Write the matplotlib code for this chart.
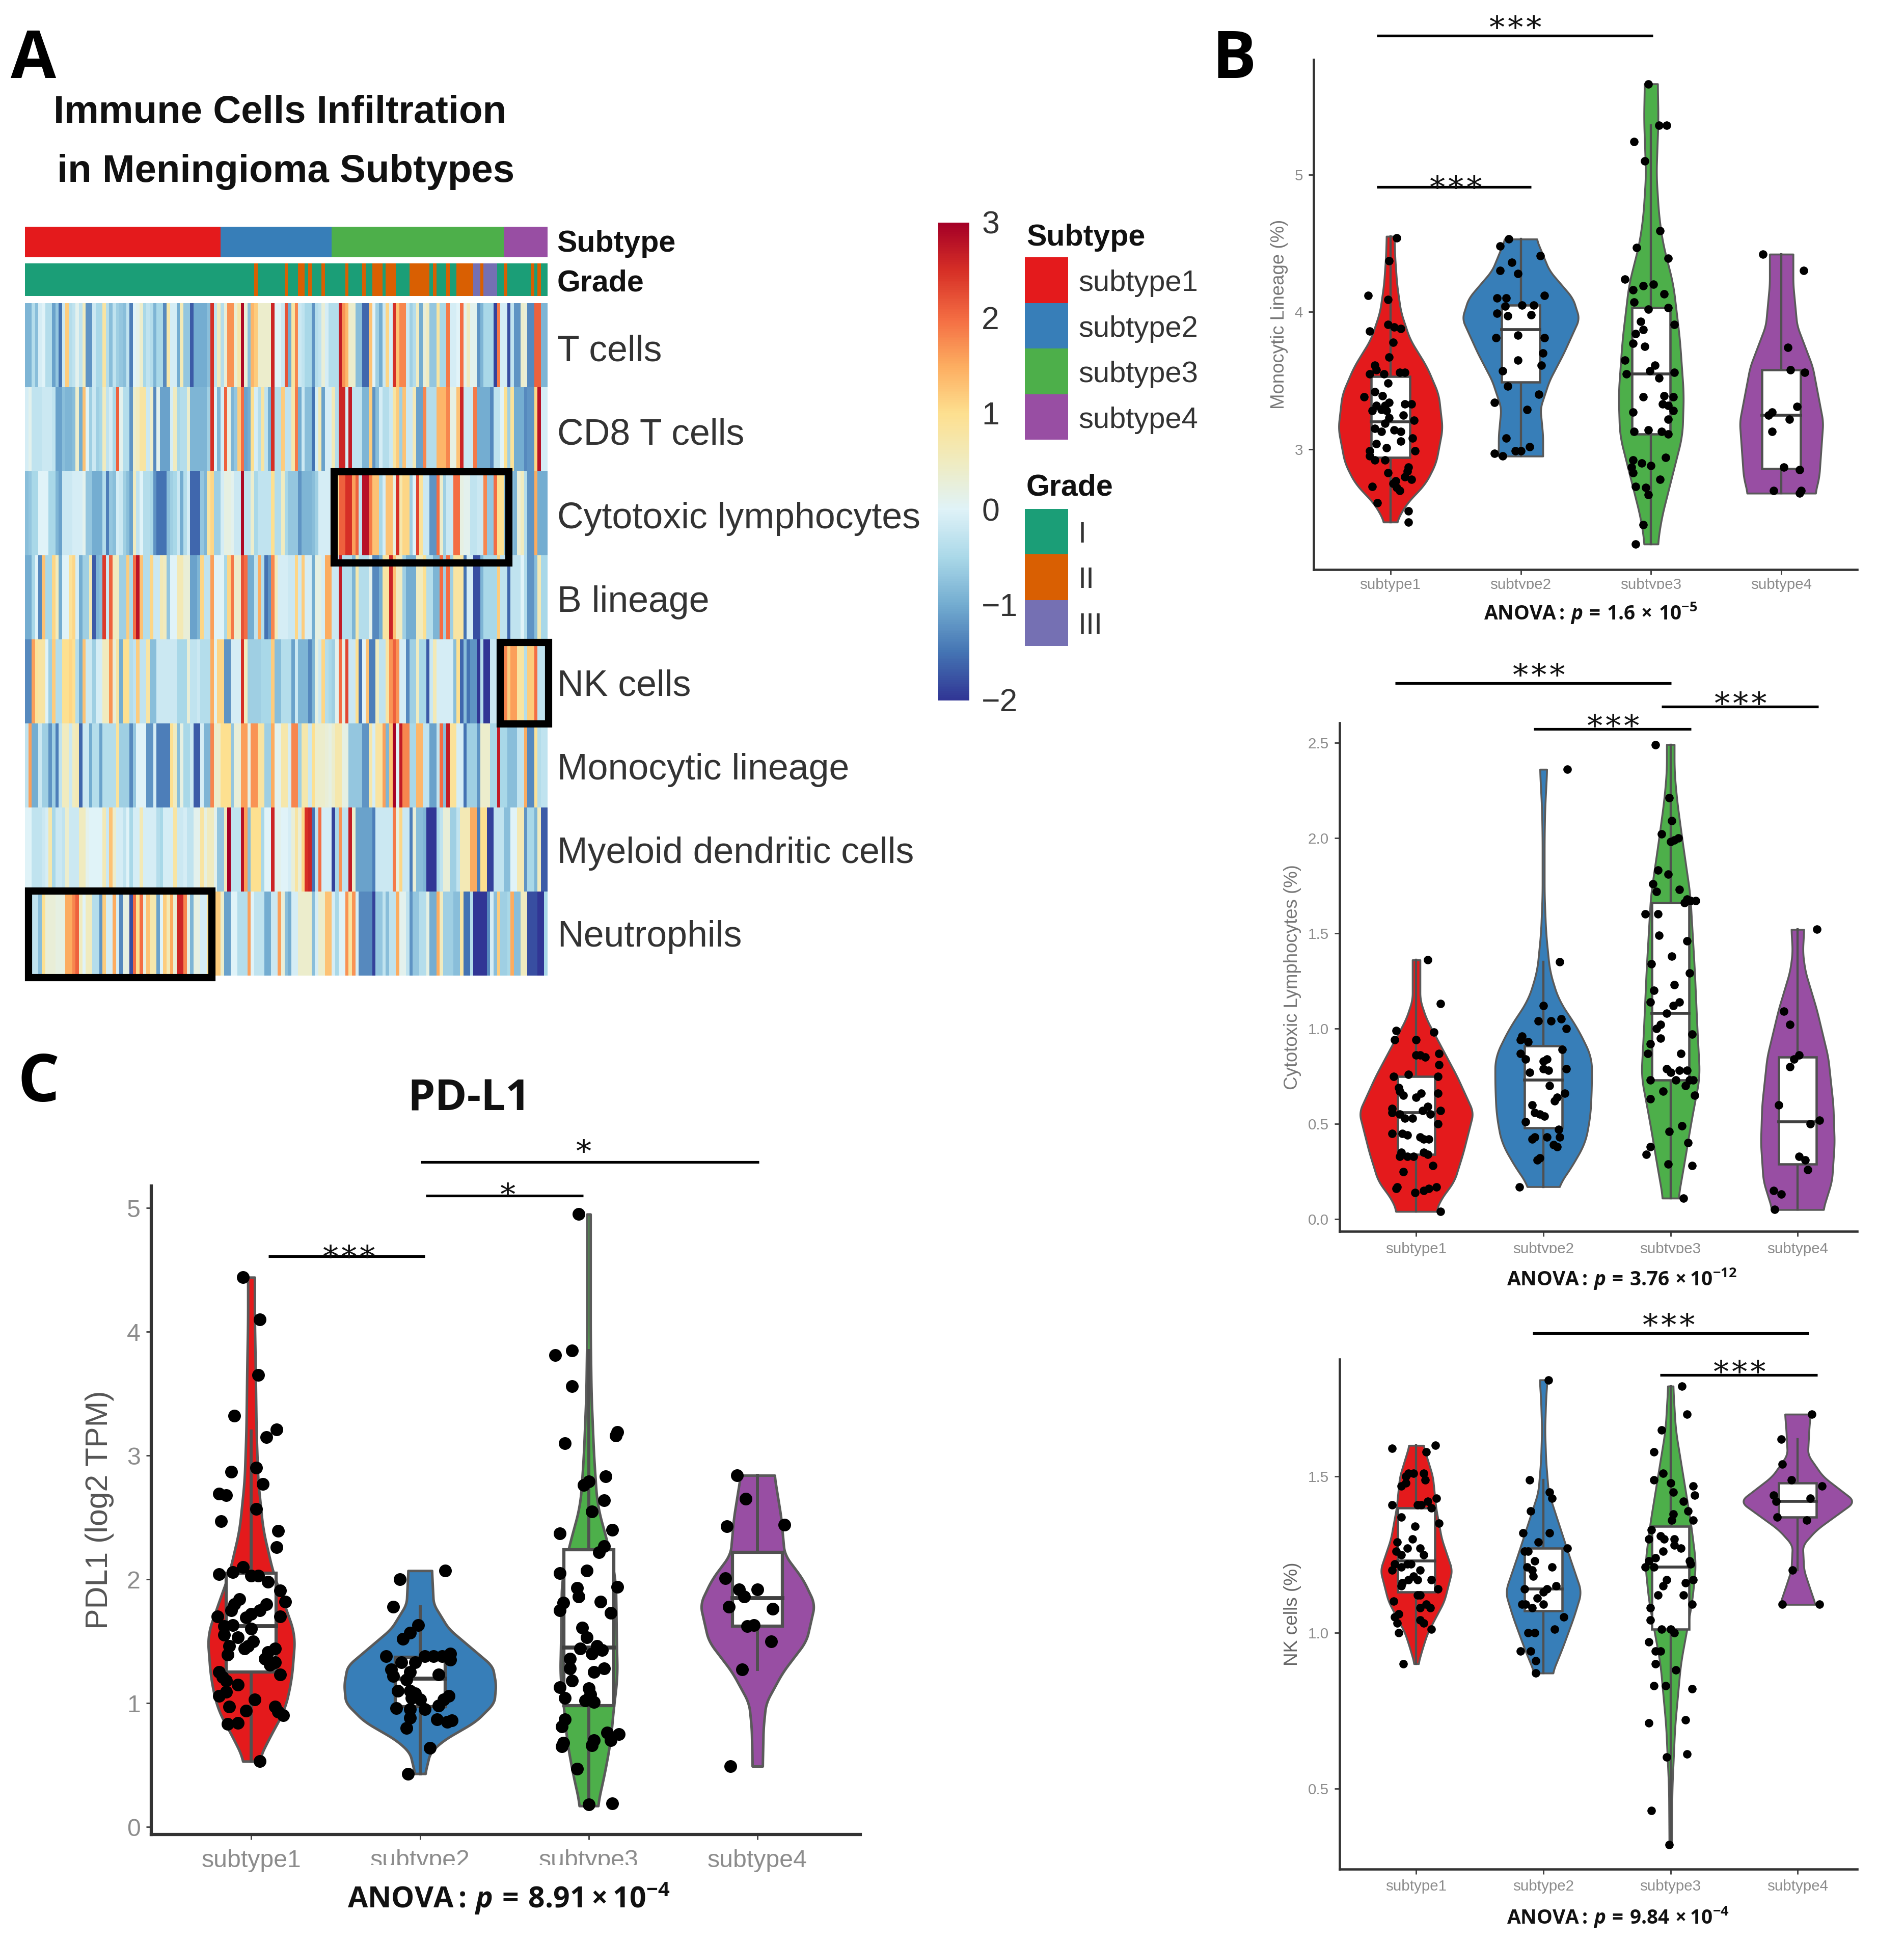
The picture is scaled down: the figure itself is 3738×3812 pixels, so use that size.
import numpy as np
import matplotlib
matplotlib.use("Agg")
import matplotlib.pyplot as plt
from matplotlib.colors import LinearSegmentedColormap, ListedColormap
from matplotlib.patches import Rectangle

plt.rcParams.update({
    "font.family": ["Liberation Sans", "DejaVu Sans"],
    "mathtext.fontset": "custom",
    "mathtext.rm": "Open Sans",
    "mathtext.it": "Open Sans:italic",
    "mathtext.bf": "Open Sans:bold",
    "mathtext.bfit": "Open Sans:italic:bold",
})

# layout grid used for every placement, the picture is 3738x3812 px
GW, GH = 1538, 1569

SUBTYPE_COLORS = ["#e41a1c", "#377eb8", "#4daf4a", "#984ea3"]
GRADE_COLORS = ["#1b9e77", "#d95f02", "#7570b3"]
CATEGORIES = ["subtype1", "subtype2", "subtype3", "subtype4"]

# ── Heatmap data ─────────────────────────────────────────────────────────────
ROW_LABELS = ["T cells", "CD8 T cells", "Cytotoxic lymphocytes", "B lineage",
              "NK cells", "Monocytic lineage", "Myeloid dendritic cells", "Neutrophils"]
SUBTYPE_COUNTS = [58, 33, 51, 13]
GRADE_II = [68, 77, 81, 82, 84, 88, 95, 100, 103, 104, 105, 107, 108, 109, 114, 115, 116,
            117, 118, 119, 121, 125, 128, 129, 130, 131, 132, 135, 142, 150, 152]
GRADE_III = [133, 134, 136, 137, 138, 139]

T_CELLS = [-.9,-.9,-.4,-.8,-.1,0,-.4,-.4,-1.1,-.7,-1.5,-.2,1.2,-.4,-.3,.1,-.3,.5,-1.2,-1.2,-.2,-.5,-.5,.8,-.4,-.8,
           -.3,-.6,-.7,-.8,-.3,-1.4,0,.1,.4,-.5,-.3,-.4,-.9,-.5,-.5,-1.3,.7,-.1,-.1,-1,.6,-.7,-.7,-1.7,-1,-1,-1,-1,
           -.8,2.5,-.3,.5,-.4,.3,1.7,1.7,.3,.7,2.9,.3,-.8,1.4,1.2,.4,.4,.4,.4,2.6,0,0,-.2,2.2,
           -1,.8,1.8,-.2,-.3,-.5,-.5,-1.2,-.4,-.3,.3,-.1,-.4,-.4,-.4,2.7,1.7,1.4,.4,.4,-.8,-.8,-1.6,-1.6,1.3,0,-.6,-1,
           -.2,1.1,-.1,2.5,1.3,1.8,1.8,-.2,-.6,-.4,.5,-1,.3,.5,-.7,-.7,.8,-.5,-.5,1.9,-.1,-.1,0,2,.1,.5,.1,.1,-1.2,-.9,
           -.5,-.5,-.5,-1.9,1.9,-.1,-.1,-1.8,-.3,-1.2,-1.2,.4,.3,-1.3,-1.3,2.1,2.1,-.9,-.9]
CD8_T = [-.1,.1,-.3,-.3,-.3,-.2,-.2,-.2,-.3,-1.1,-1.1,-.8,-.9,-.9,-.8,.4,-1,1.3,0,-.6,-.2,-.6,-.5,.5,-.3,-.1,
         -.5,2.1,.1,-.4,-.4,-1.2,.4,.5,.8,.8,-.2,.4,-1.3,.1,-1.1,-1.1,-1.1,-.1,.5,-.5,-.4,-.4,.4,-.9,-.9,-.9,-.9,-.9,
         -.6,2.5,0,-.9,-.1,2.1,.2,-.9,-.7,1.2,2,-1.1,-1,1,-.1,-.4,.8,-.3,-1,2.5,-.4,-.4,1.2,-.3,
         -.3,.7,1.9,-1,-.2,-.8,-.8,-1.5,-.1,.6,-1.1,-.1,-.1,.6,-.4,2.6,2.6,-.1,2.7,-.3,-.3,-.3,-.9,-.9,1.2,-1.2,-.8,-.1,
         -.4,-.4,-.2,.8,1.2,-.6,1.3,-.2,-.2,.6,-1.1,-1.1,1.8,-.4,-.4,-.4,1.4,1.4,1.4,1.8,.2,.2,1.3,2.6,-.2,-.2,-.2,1.9,
         -1,-1,-1,-1,-1.3,-.3,-.3,0,1,-.6,.9,-1,-1,-1,-1.3,-1.2,-1.2,1.1,2.8,-.1,-.1]
CYTOTOXIC = [-.8,-.7,-.5,-.5,0,0,0,-.5,-.5,-.9,-1.1,-.2,-.2,-.2,-.1,-.1,-.1,.1,-.7,-.7,-1,-1,-1,-.4,-1.4,-.7,
             -.8,-.1,-.2,-.6,-.8,-1.1,.5,-.3,0,-.4,-.4,-.5,-1.2,-1.5,-1.5,-1.5,-.8,-.6,-.5,-.2,-1,-.4,-.1,-1.6,-1.6,-1.6,-.7,-.9,
             .8,1.1,-.6,-.6,-.1,.2,.2,.1,-.2,-.2,2.9,-.3,-.3,.4,-.5,-.3,-.3,-.3,-.3,1,-.4,-.4,.5,-.5,
             -.7,-.7,-.7,-1.2,-.9,-.9,-.9,-.8,-.6,-.1,-.1,-.1,-.1,.3,.9,2.1,2.1,2.5,2.5,1.6,2.1,-.3,2.8,2.8,1.9,1.3,1.3,-.5,
             -.1,1.3,1.3,.2,2.5,.7,1.1,1.1,-.6,0,2.3,.9,-.2,-.2,-1.2,-1.2,2,.4,-.6,-.2,-.2,2,2,.2,.1,.1,-.3,-.3,-.2,-.2,
             1.8,-.7,-.7,2,1,1,-.8,-.8,-.8,-.9,.3,.5,-.4,-1.2,-1.2,1.5,-1,-1,-1]
B_LINEAGE = [-1,-1,-.5,0,-1.3,1.3,-.5,-.5,1.1,.5,-1,0,0,.9,1.1,-.1,-1,-.6,-.6,.6,-1.7,-.9,-.8,2.4,-.2,2.1,
             .5,.5,-.6,-.6,1.2,-.5,2,2.8,1.3,-.4,-.4,1.1,-.2,-.2,.6,.5,-.7,0,0,.6,.6,.3,.3,-1.1,-1.1,-.9,1.1,-.3,
             -.3,1.6,0,0,0,-.5,1.1,1.9,.4,.4,2.2,2,-1,-1,-.3,1.5,-.4,-1.5,-1.2,1.8,.6,-.1,-.1,-.1,
             -.2,-.2,1.1,-.2,1.2,-.1,-.1,-1,.2,.2,-.1,1.5,1.5,-.2,-.2,2.7,-.4,-.4,-.4,-.9,.7,-.4,-.4,-.4,.1,-1.3,-1.3,-1,
             .8,.8,2.6,1.3,.5,.5,-.6,-1,-1,-1,.5,.5,1,-.4,-.4,-.9,-.9,2,-.6,2,-.6,.8,.8,.8,-1.5,-.1,-.1,-1.8,-1.8,-.9,
             -.5,-.5,-.5,-.5,1.2,-.3,-.3,-1.6,-.3,-.3,-.3,0,-.4,-1.2,-1.2,-.8,.6,-.5,-.5]
NK_CELLS = [-1.3,-1.3,1.6,.9,.8,.8,0,-.6,1.2,-.4,-.4,1,1,1.1,1,-.4,-1,1.3,-.2,-.2,-.6,-.1,-.1,.5,.5,1.7,
            .3,.8,-1,1,1,-.4,-.3,1.2,-.3,-.3,.8,-.8,-.8,-.2,-.2,-.2,-.2,-.2,-.2,-.5,-.5,-.5,.3,-.3,-.3,-.2,-.4,-.4,
            -.4,1.5,.1,1.1,1.1,-1.2,-1.2,-.1,-.1,-.1,2.5,.5,-.6,-.6,-.6,-.6,-.5,-.5,-.5,1.2,-.8,-.8,-.4,-.4,
            -.4,-1.1,-.2,-.9,-.9,-.9,-1.3,-.9,.2,-.2,1.1,-.4,-.5,-.6,.1,2,.2,2.3,-.2,-.2,1,-1.5,0,1.3,-1.4,-1.4,
            .5,-.3,-.3,.8,1.7,2.1,1.7,-.1,-.1,-1.3,-.6,-.6,.5,-.5,-.5,-1.7,-.2,.6,-.1,-.1,-.1,-.1,-.1,-.8,1,-1.6,-.8,-1.5,-1.2,-1.2,
            -2,-.4,-2,-2,-.2,-.2,.9,.9,1.8,1.2,1.6,1.6,.8,.8,-.4,1.2,1.2,2,-.3,-.3,-.3]
MONOCYTIC = [-.3,1.6,-1,-1,-.2,-.6,-.6,-1.2,-.6,-1.4,-.3,.5,.5,-.2,.5,.6,-1.6,-.2,-.2,-1,-.4,-.4,-1.1,-.4,-.4,-.4,
             -.4,.9,-.6,-.6,-.6,-1.3,-.7,0,0,0,-1.2,-1.2,-.1,-1.4,-1.4,-1.4,-1.4,1,.5,-.8,.2,-.5,-.5,-.2,-1.7,-1.7,-.1,-.9,
             -.9,1.8,.4,.4,1,1,1,-.7,.3,.3,1.6,1.6,.2,1.7,1.7,.8,.8,-.6,-.6,1.5,.1,.1,.7,.7,
             -.1,1.8,1.8,-.6,.7,.7,-.2,1,.4,.4,.4,.3,.2,.4,.7,.7,.2,.2,-.7,-.7,-.7,-.7,-1.2,-1.2,.7,-.1,.8,.8,
             1.6,-.9,1.3,3,0,2.7,1.8,1.8,-.5,-.5,1.4,1.4,-.3,-.3,-1.1,-1.1,-.3,2,-.8,2.7,.9,.9,-.1,-.1,-1.5,-.6,-.6,-.6,-1.2,.4,
             .4,.4,-.5,-.5,2.7,-.5,-.5,-.8,-.8,-.8,-.3,-.3,1.5,-1.3,-1.3,.9,-.4,-.3,-.3]
MYELOID_DC = [0,0,-.3,-.3,-.3,-.2,-.1,.7,-.5,-.2,-.2,-.3,.4,-.2,-.2,-.2,.5,.5,.1,0,0,0,0,.6,-.2,1.3,
              .4,-.1,-.1,-.3,0,-.5,-.1,-.1,.6,-.1,-.1,-.1,-.1,-.4,-.5,-.1,-.1,-.1,.8,-.2,-.2,-.1,-.3,-.3,.1,.1,.8,.2,
              .5,.5,.1,-.7,-.7,.5,3,-.3,-.3,-.3,2.8,1.6,-.8,1,1,1,-.5,0,0,2.6,.1,.1,0,0,
              -.1,.3,.8,.3,1.1,2.5,2.6,-1.5,-.3,2,-.1,-.1,-.1,-1.9,-.5,1.7,-.3,-.3,2.7,.4,-1.1,-1.1,-1.1,-1.1,-1.1,-1.4,
              -.2,-.2,-.2,-.2,-.2,1.9,.2,1.1,-.2,-.2,-1.4,.3,-.8,-.8,-.9,-2,-2,-2,-.5,-.3,.3,.3,-.6,-.6,-.3,.6,.6,.6,1.5,1.5,
              -1.4,1,1,-1.9,-1.9,-.3,-.3,-.3,-.8,-.8,0,0,.6,.6,-1.2,-.5,-.5,-.9,.5,-1.7,-1.7]
NEUTROPHILS = [-.3,-.3,-.3,-.3,-.8,1,.3,.3,.3,.2,.2,.2,1.5,1.5,1.8,2.1,.5,0,.5,.5,-.4,-.4,-1.2,1.2,-.1,-.1,
               1.5,-.1,-1.3,.2,.2,-1.8,2,1,2,.2,1.3,.7,.7,-1.1,0,1.2,.6,1.5,.3,2.6,2.6,1.8,.2,-.9,.2,.2,-.1,-.1,
               1,1,1.2,1.2,.4,-1.1,-1.1,0,0,-.4,-.4,-.4,1.6,0,-.3,-.3,-.3,-1,-1,-.2,-.2,1.6,.3,-.8,
               -1,-.1,-.1,.4,.4,.4,.4,-.8,-.1,.4,.4,1.3,1.3,-.1,-.5,0,0,1.7,.8,1.7,-.1,-1.3,-1.3,-1.3,-1.3,-1.9,
               -.7,-.7,-.3,-.8,-.3,-.3,1.5,.1,.1,-.3,-1.2,-.7,-.7,-.4,-.4,.2,-1,-1,1.5,.5,-.6,-.6,-.6,-.8,-.8,.8,-1.5,-1.5,-.4,-2,
               -2,-2,-2,-1.3,-.1,-.8,1.2,-.6,-.6,-.5,1.5,-.8,-.8,.5,.5,-1.8,-1.8,-1.8,-2,-2,-.5]
HEAT_ROWS = [T_CELLS, CD8_T, CYTOTOXIC, B_LINEAGE, NK_CELLS, MONOCYTIC, MYELOID_DC, NEUTROPHILS]

# ── Panel B top: Monocytic lineage ───────────────────────────────────────────
# violin outlines are (value, half width), points are (jitter, value)
MONO_VIOLINS = [
    [(2.47,.045),(2.6,.12),(2.75,.27),(2.9,.35),(3.15,.40),(3.4,.37),(3.6,.28),(3.8,.15),(4.0,.08),(4.2,.05),(4.4,.035),(4.55,.03)],
    [(2.95,.17),(3.1,.17),(3.3,.15),(3.5,.22),(3.7,.33),(3.95,.45),(4.1,.4),(4.3,.22),(4.53,.12)],
    [(2.31,.05),(2.5,.08),(2.8,.16),(3.1,.24),(3.4,.25),(3.8,.22),(4.2,.17),(4.5,.09),(4.7,.06),(5.0,.04),(5.4,.055),(5.66,.05)],
    [(2.68,.26),(2.8,.29),(3.2,.32),(3.6,.24),(3.9,.12),(4.2,.09),(4.42,.09)],
]
MONO_BOXES = [(2.47,2.94,3.2,3.53,4.55),(2.95,3.49,3.87,4.05,4.53),(2.31,3.11,3.55,4.03,5.36),(2.68,2.86,3.25,3.58,4.42)]
MONO_PTS_1 = [(.05,4.54),(-.01,4.37),(-.17,4.12),(-.02,4.09),(-.16,3.86),(-.02,3.91),(.03,3.89),(.08,3.88),(.02,3.78),(-.01,3.67),
              (-.12,3.61),(-.11,3.58),(-.16,3.55),(-.05,3.55),(.07,3.56),(.11,3.56),(-.2,3.38),(-.02,3.48),(-.12,3.42),(-.06,3.39),
              (-.11,3.32),(-.04,3.32),(-.01,3.34),(.11,3.33),(.16,3.33),(-.14,3.28),(-.07,3.29),(-.03,3.28),(-.01,3.23),(.1,3.25),
              (.18,3.21),(-.04,3.19),(-.12,3.15),(-.07,3.13),(.03,3.14),(.08,3.13),(.17,3.08),(.08,3.06),(-.11,3.04),(-.03,3.01),
              (.19,2.99),(-.16,2.99),(-.16,2.95),(-.12,2.92),(-.04,2.92),(.14,2.87),(.13,2.84),(-.02,2.83),(.11,2.8),(.16,2.78),
              (.04,2.77),(.02,2.75),(-.14,2.73),(.05,2.72),(.07,2.7),(-.1,2.61),(.14,2.55),(.14,2.47)]
MONO_PTS_2 = [(-.09,4.53),(-.16,4.48),(.15,4.41),(-.07,4.36),(-.16,4.3),(-.02,4.28),(.18,4.12),(-.18,4.1),(-.11,4.1),(-.12,4.04),
              (.01,4.05),(.1,4.05),(-.18,3.99),(-.1,3.97),(.08,3.98),(-.02,3.83),(-.19,3.81),(.18,3.81),(.17,3.7),(-.02,3.65),
              (.16,3.61),(-.14,3.57),(-.1,3.46),(.14,3.4),(-.2,3.34),(.05,3.29),(-.11,3.08),(.07,3.02),(0,2.99),(-.04,2.99),
              (-.2,2.97),(-.14,2.95)]
MONO_PTS_3 = [(-.02,5.66),(.06,5.36),(.12,5.36),(-.13,5.24),(-.05,5.1),(.07,4.59),(-.11,4.47),(.13,4.39),(-.2,4.24),(-.06,4.19),
              (.02,4.2),(-.14,4.16),(.1,4.13),(-.13,4.07),(-.02,4.02),(.13,4.03),(.18,3.91),(-.08,3.93),(-.06,3.87),(-.12,3.84),
              (-.14,3.77),(-.05,3.75),(-.2,3.65),(.03,3.61),(-.01,3.57),(-.19,3.55),(.18,3.56),(.06,3.52),(-.06,3.38),(.1,3.39),
              (.17,3.38),(.09,3.33),(.13,3.32),(.17,3.28),(-.14,3.27),(.13,3.22),(-.13,3.13),(-.02,3.14),(.08,3.13),(.13,3.11),
              (-.14,2.92),(-.07,2.9),(0,2.88),(.11,2.94),(-.15,2.87),(-.14,2.83),(.07,2.78),(-.12,2.73),(-.04,2.72),(-.02,2.67),
              (-.06,2.45),(-.12,2.31)]
MONO_PTS_4 = [(-.14,4.42),(.17,4.3),(.05,3.74),(.07,3.58),(.18,3.56),(-.07,3.27),(-.1,3.25),(.12,3.31),(.06,3.22),(-.07,3.13),
              (.02,2.87),(.14,2.85),(-.06,2.7),(.15,2.7),(.14,2.68)]

# ── Panel B middle: Cytotoxic lymphocytes ────────────────────────────────────
CYTO_VIOLINS = [
    [(.04,.155),(.1,.19),(.2,.3),(.35,.37),(.56,.45),(.75,.32),(.9,.2),(1.05,.08),(1.15,.03),(1.36,.03)],
    [(.17,.11),(.25,.2),(.4,.33),(.55,.37),(.7,.38),(.85,.38),(1.0,.27),(1.15,.12),(1.3,.05),(1.5,.02),(1.7,.008),(2.0,.008),(2.15,.012),(2.36,.028)],
    [(.11,.06),(.3,.11),(.5,.16),(.75,.23),(1.0,.21),(1.3,.19),(1.7,.155),(2.0,.09),(2.2,.05),(2.35,.03),(2.49,.03)],
    [(.05,.2),(.2,.27),(.4,.29),(.6,.28),(.85,.24),(1.1,.15),(1.3,.06),(1.4,.04),(1.52,.05)],
]
CYTO_BOXES = [(.04,.34,.56,.75,1.36),(.17,.48,.73,.91,1.35),(.11,.73,1.08,1.66,2.49),(.05,.29,.51,.85,1.52)]
CYTO_PTS_1 = [(.09,1.36),(.19,1.13),(-.16,.99),(.14,.98),(-.17,.94),(0,.94),(.18,.87),(0,.86),(.03,.86),(.07,.85),(.18,.81),(-.18,.75),
              (-.06,.76),(.17,.75),(-.14,.69),(-.13,.67),(-.1,.65),(0,.64),(.04,.66),(.17,.66),(-.19,.58),(.09,.59),(-.19,.56),(-.13,.55),
              (.05,.57),(.11,.55),(.19,.57),(-.09,.53),(-.03,.53),(.17,.5),(-.19,.45),(-.11,.45),(-.07,.44),(.03,.43),(.06,.42),(.1,.42),
              (-.12,.35),(-.13,.33),(-.07,.33),(-.02,.33),(.06,.35),(.09,.34),(.13,.28),(-.1,.25),(-.15,.17),(-.16,.16),(-.01,.14),(.06,.15),
              (.1,.16),(.16,.17),(.19,.04)]
CYTO_PTS_2 = [(.19,2.36),(.13,1.35),(0,1.12),(-.04,1.04),(.06,1.04),(.14,1.05),(.18,1.0),(-.17,.96),(-.18,.94),(-.12,.93),(.15,.89),
              (-.18,.87),(-.14,.84),(0,.83),(.03,.84),(0,.79),(.04,.78),(.18,.79),(-.11,.77),(.05,.7),(.17,.66),(.11,.64),(.09,.62),(-.09,.6),
              (-.07,.56),(-.03,.55),(.01,.54),(-.14,.51),(.12,.47),(-.07,.43),(-.09,.42),(.03,.43),(.13,.43),(.08,.39),(.11,.38),(-.03,.32),
              (-.05,.31),(-.19,.17)]
CYTO_PTS_3 = [(-.12,2.49),(-.01,2.21),(.01,2.09),(-.07,2.02),(.06,2.0),(.03,1.99),(0,1.98),(-.1,1.83),(-.02,1.81),(-.14,1.76),(-.11,1.72),
              (.07,1.73),(.13,1.68),(.2,1.67),(.11,1.66),(.16,1.67),(-.2,1.6),(-.1,1.6),(-.09,1.49),(.13,1.46),(.01,1.38),(-.15,1.34),(.15,1.29),
              (.03,1.23),(-.13,1.2),(-.16,1.14),(.07,1.14),(.02,1.12),(-.03,1.08),(-.08,1.02),(-.11,1.0),(.17,.97),(-.08,.95),(-.16,.92),(-.18,.87),
              (.08,.87),(-.03,.79),(0,.77),(.07,.78),(.13,.78),(.04,.73),(-.16,.73),(.15,.73),(.18,.73),(.12,.7),(-.06,.67),(.19,.65),(-.16,.63),
              (.09,.49),(-.01,.46),(.14,.4),(-.16,.38),(-.19,.34),(-.02,.29),(.17,.28),(.1,.11)]
CYTO_PTS_4 = [(.15,1.52),(-.11,1.09),(-.06,1.02),(.01,.86),(-.03,.84),(-.06,.8),(-.15,.6),(.17,.52),(.1,.5),(.01,.33),(.06,.31),(.08,.26),
              (-.19,.15),(-.13,.13),(-.18,.05)]

# ── Panel B bottom: NK cells ─────────────────────────────────────────────────
NK_VIOLINS = [
    [(.9,.015),(.95,.05),(1.0,.09),(1.1,.22),(1.2,.283),(1.3,.2),(1.4,.155),(1.5,.13),(1.6,.055)],
    [(.87,.07),(.95,.15),(1.05,.24),(1.13,.3),(1.25,.2),(1.35,.12),(1.45,.04),(1.55,.02),(1.65,.012),(1.75,.02),(1.81,.03)],
    [(.32,.01),(.5,.013),(.7,.035),(.9,.08),(1.1,.17),(1.22,.2),(1.35,.16),(1.5,.1),(1.65,.04),(1.79,.02)],
    [(1.09,.14),(1.15,.09),(1.2,.05),(1.28,.04),(1.33,.15),(1.42,.455),(1.5,.2),(1.57,.08),(1.65,.09),(1.7,.1)],
]
NK_BOXES = [(.9,1.13,1.23,1.4,1.6),(.87,1.07,1.14,1.27,1.49),(.32,1.01,1.21,1.34,1.79),(1.2,1.37,1.42,1.48,1.62)]
NK_PTS_1 = [(-.19,1.59),(.15,1.6),(.08,1.58),(-.06,1.51),(-.02,1.51),(.06,1.51),(-.08,1.5),(-.12,1.47),(.07,1.49),(-.08,1.48),(.16,1.43),
            (-.19,1.41),(.09,1.42),(.04,1.41),(.01,1.41),(.12,1.4),(-.12,1.37),(.18,1.35),(-.01,1.34),(-.03,1.3),(-.15,1.29),(-.07,1.27),(.03,1.27),
            (-.16,1.26),(-.12,1.25),(.06,1.25),(-.17,1.22),(-.07,1.22),(-.04,1.22),(-.19,1.2),(-.12,1.21),(.03,1.2),(-.02,1.18),(-.06,1.17),(-.11,1.16),
            (.01,1.17),(.12,1.17),(-.12,1.15),(.17,1.14),(.03,1.12),(.01,1.12),(-.18,1.1),(.08,1.09),(.11,1.08),(.03,1.08),(-.14,1.06),(-.17,1.05),
            (.03,1.04),(.06,1.03),(-.15,1.03),(.12,1.01),(-.14,1.0),(-.1,.9)]
NK_PTS_2 = [(-.11,1.49),(.05,1.45),(.07,1.43),(-.1,1.39),(-.16,1.32),(.05,1.32),(-.04,1.29),(.19,1.27),(-.15,1.26),(-.12,1.26),(-.07,1.23),
            (-.13,1.21),(.07,1.21),(-.09,1.2),(-.08,1.18),(.1,1.15),(-.15,1.14),(0,1.13),(.03,1.14),(-.05,1.11),(-.17,1.09),(-.14,1.09),(0,1.09),
            (-.09,1.08),(.16,1.05),(.09,1.01),(-.12,1.0),(-.07,1.0),(-.18,.94),(-.1,.94),(-.06,.91),(-.06,.87),(.04,1.81)]
NK_PTS_3 = [(.09,1.79),(.13,1.7),(-.07,1.65),(-.13,1.58),(-.06,1.51),(-.13,1.49),(0,1.48),(.18,1.47),(.02,1.45),(.19,1.44),(.1,1.42),(.14,1.39),
            (.02,1.38),(.01,1.36),(.18,1.36),(-.15,1.33),(-.08,1.31),(-.17,1.3),(-.05,1.3),(.03,1.3),(.03,1.28),(.08,1.27),(-.06,1.26),(-.17,1.23),
            (-.12,1.24),(.15,1.23),(-.2,1.21),(-.13,1.21),(.16,1.22),(-.03,1.17),(-.06,1.15),(.18,1.17),(.12,1.16),(-.1,1.12),(.1,1.12),(-.16,1.08),
            (.17,1.09),(-.16,1.04),(-.07,1.01),(0,1.01),(.03,1.0),(-.17,.97),(-.12,.94),(-.08,.94),(-.12,.9),(.04,.88),(-.13,.83),(-.04,.83),(.17,.82),
            (-.17,.71),(.12,.72),(-.03,.6),(.13,.61),(-.15,.43),(-.01,.32)]
NK_PTS_4 = [(.11,1.7),(-.13,1.62),(-.12,1.54),(-.05,1.49),(.19,1.47),(-.19,1.44),(-.17,1.42),(.1,1.43),(-.16,1.37),(.07,1.36),(-.04,1.2),(-.12,1.09),(.17,1.09)]

# ── Panel C: PD-L1 ───────────────────────────────────────────────────────────
PDL1_VIOLINS = [
    [(.53,.04),(.7,.1),(.95,.2),(1.2,.24),(1.55,.26),(1.9,.17),(2.05,.13),(2.4,.07),(2.8,.04),(3.2,.03),(3.7,.025),(4.1,.02),(4.44,.02)],
    [(.43,.03),(.6,.06),(.7,.14),(.85,.33),(1.0,.44),(1.15,.45),(1.3,.43),(1.45,.3),(1.6,.17),(1.8,.08),(2.07,.07)],
    [(.17,.05),(.4,.09),(.7,.13),(1.0,.15),(1.2,.17),(1.5,.165),(2.0,.16),(2.25,.12),(2.6,.05),(3.0,.03),(3.5,.015),(4.0,.01),(4.95,.01)],
    [(.49,.03),(.8,.035),(1.0,.05),(1.25,.15),(1.5,.29),(1.8,.34),(2.0,.27),(2.2,.16),(2.5,.14),(2.84,.1)],
]
PDL1_BOXES = [(.53,1.25,1.62,2.05,3.2),(.43,.97,1.2,1.37,1.78),(.18,.98,1.45,2.24,3.85),(1.27,1.62,1.85,2.22,2.84)]
PDL1_PTS_1 = [(-.05,4.44),(.05,4.1),(.04,3.65),(-.1,3.32),(.15,3.21),(.09,3.15),(-.12,2.87),(.03,2.9),(.07,2.77),(-.19,2.69),(-.15,2.68),
              (.03,2.57),(.16,2.39),(-.18,2.47),(.15,2.26),(-.19,2.04),(-.11,2.06),(-.05,2.1),(0,2.03),(.04,2.03),(.1,1.98),(.17,1.91),(.2,1.82),
              (-.07,1.84),(-.1,1.8),(.09,1.8),(-.12,1.75),(.05,1.75),(0,1.72),(.17,1.7),(-.2,1.7),(-.03,1.69),(-.11,1.63),(-.16,1.62),(0,1.6),
              (-.16,1.55),(-.08,1.53),(.01,1.5),(-.02,1.46),(-.13,1.46),(.14,1.44),(.1,1.41),(-.04,1.44),(-.14,1.39),(.08,1.36),(.14,1.33),(.11,1.31),
              (-.19,1.25),(-.17,1.21),(.17,1.23),(-.15,1.18),(-.08,1.15),(-.19,1.06),(-.15,1.09),(.02,1.03),(-.13,.97),(-.03,.94),(.14,.97),(.16,.93),
              (.19,.9),(-.14,.83),(-.08,.84),(.05,.53)]
PDL1_PTS_2 = [(.15,2.07),(-.12,2.0),(-.16,1.78),(-.01,1.63),(-.06,1.57),(-.1,1.52),(-.2,1.38),(.18,1.4),(.03,1.38),(.08,1.38),(.13,1.38),(-.11,1.33),
              (-.03,1.33),(.18,1.35),(-.17,1.27),(-.06,1.25),(.11,1.23),(-.16,1.22),(-.08,1.19),(-.13,1.1),(-.06,1.1),(-.03,1.08),(.17,1.06),(-.05,1.04),
              (.14,1.03),(0,1.03),(-.14,.96),(-.06,.95),(.03,.95),(.11,.98),(-.06,.88),(.1,.87),(.19,.86),(.16,.85),(-.08,.8),(.06,.64),(-.07,.43)]
PDL1_PTS_3 = [(-.06,4.95),(-.1,3.85),(-.2,3.81),(-.1,3.56),(-.14,3.1),(.17,3.19),(.16,3.16),(.1,2.83),(0,2.79),(-.03,2.76),(.09,2.64),(.02,2.55),
              (.14,2.4),(-.17,2.37),(.09,2.27),(.06,2.22),(-.17,2.05),(-.01,2.07),(.17,1.94),(-.07,1.93),(-.06,1.86),(.07,1.82),(-.15,1.81),(-.17,1.75),
              (.13,1.73),(-.04,1.61),(-.01,1.53),(.05,1.46),(-.05,1.44),(.08,1.43),(.02,1.4),(-.11,1.36),(.09,1.28),(.03,1.25),(-.11,1.28),(-.1,1.18),
              (-.17,1.13),(0,1.12),(.01,1.07),(-.14,1.04),(-.02,1.02),(.03,1.01),(-.14,.87),(-.16,.81),(.18,.75),(.11,.76),(.13,.7),(.03,.7),(-.15,.68),
              (-.16,.65),(.02,.66),(-.07,.47),(0,.18),(.14,.19)]
PDL1_PTS_4 = [(-.12,2.84),(-.07,2.65),(-.18,2.43),(.16,2.44),(-.19,2.01),(-.11,1.92),(0,1.92),(-.08,1.86),(-.17,1.78),(.09,1.76),(-.06,1.62),(-.02,1.63),
              (.08,1.5),(-.09,1.27),(-.16,.49)]

# ── Layout helpers ───────────────────────────────────────────────────────────
fig = plt.figure(figsize=(3738 / 300, 3812 / 300), dpi=300, facecolor="white")


def place(left, top, right, bottom, **kw):
    return fig.add_axes([left / GW, 1 - bottom / GH, (right - left) / GW, (bottom - top) / GH], **kw)


def violin_panel(box, xlim, ylim, yticks, ylabels, ylabel, violins, boxes, points,
                 dot, tick_fs, label_fs, spine_lw, label_color, label_pad=3, xpad=2.5):
    ax = place(*box)
    for i in range(4):
        prof = np.array(violins[i])
        yy = np.linspace(prof[0, 0], prof[-1, 0], 300)
        hw = np.interp(yy, prof[:, 0], prof[:, 1])
        hw = np.convolve(np.pad(hw, 8, mode="edge"), np.ones(17) / 17, mode="valid")
        ax.fill_betweenx(yy, i + 1 - hw, i + 1 + hw, facecolor=SUBTYPE_COLORS[i],
                         edgecolor="#5a5a5a", lw=spine_lw * .8, zorder=2)
        lo, q1, med, q3, hi = boxes[i]
        ax.plot([i + 1, i + 1], [lo, hi], color="#505050", lw=spine_lw * .95, zorder=3)
        ax.add_patch(Rectangle((i + 1 - .148, q1), .296, q3 - q1, fc="white", ec="#505050",
                               lw=spine_lw, zorder=4))
        ax.plot([i + 1 - .148, i + 1 + .148], [med, med], color="#404040", lw=spine_lw * 1.25, zorder=5)
        pts = np.array(points[i])
        ax.scatter(i + 1 + pts[:, 0], pts[:, 1], s=dot, color="black", lw=0, zorder=6, clip_on=False)
    ax.set_xlim(*xlim)
    ax.set_ylim(*ylim)
    ax.set_xticks([1, 2, 3, 4], CATEGORIES)
    ax.set_yticks(yticks, ylabels)
    ax.tick_params(labelsize=tick_fs, colors="#8c8c8c", length=2.5, width=.7, pad=2.5)
    ax.tick_params(axis="both", color="#444444")
    ax.tick_params(axis="x", pad=xpad)
    ax.set_ylabel(ylabel, fontsize=label_fs, color=label_color, labelpad=label_pad)
    for s in ("top", "right"):
        ax.spines[s].set_visible(False)
    for s in ("left", "bottom"):
        ax.spines[s].set_linewidth(spine_lw)
        ax.spines[s].set_color("#333333")
    return ax


# ── Panel A heatmap ──────────────────────────────────────────────────────────
heat_cmap = LinearSegmentedColormap.from_list(
    "heat", ["#313695", "#4575b4", "#74add1", "#abd9e9", "#e0f3f8", "#f0ecc0",
             "#fee090", "#fdae61", "#f46d43", "#d73027", "#a50026"])

heat = np.array(HEAT_ROWS)
n_cols = heat.shape[1]

ax_sub = place(20, 183, 442, 208)
ax_sub.imshow(np.repeat(np.arange(4), SUBTYPE_COUNTS)[None, :], aspect="auto",
              cmap=ListedColormap(SUBTYPE_COLORS), interpolation="nearest")
ax_sub.axis("off")

grade = np.zeros(n_cols, dtype=int)
grade[GRADE_II] = 1
grade[GRADE_III] = 2
ax_grade = place(20, 213, 442, 239)
ax_grade.imshow(grade[None, :], aspect="auto", cmap=ListedColormap(GRADE_COLORS),
                interpolation="nearest", vmin=0, vmax=2)
ax_grade.axis("off")

ax_heat = place(20, 245, 442, 788)
ax_heat.imshow(heat, aspect="auto", cmap=heat_cmap, vmin=-2, vmax=3, interpolation="nearest")
ax_heat.axis("off")

ax_cbar = place(758, 180, 783, 566)
ax_cbar.imshow(np.linspace(3, -2, 256)[:, None], aspect="auto", cmap=heat_cmap, vmin=-2, vmax=3)
ax_cbar.axis("off")

# ── Panels B and C ───────────────────────────────────────────────────────────
violin_panel((1061, 48, 1500, 460), (.41, 4.58), (2.126, 5.838), [3, 4, 5], ["3", "4", "5"],
             "Monocytic Lineage (%)", MONO_VIOLINS, MONO_BOXES,
             [MONO_PTS_1, MONO_PTS_2, MONO_PTS_3, MONO_PTS_4], 16, 7.1, 8.8, 1.1, "#777777", xpad=1.5)
violin_panel((1082, 584, 1500, 995), (.396, 4.467), (-.065, 2.604), [0, .5, 1, 1.5, 2, 2.5],
             ["0.0", "0.5", "1.0", "1.5", "2.0", "2.5"], "Cytotoxic Lymphocytes (%)",
             CYTO_VIOLINS, CYTO_BOXES, [CYTO_PTS_1, CYTO_PTS_2, CYTO_PTS_3, CYTO_PTS_4],
             16, 7.1, 8.8, 1.1, "#777777")
violin_panel((1082, 1098, 1500, 1510), (.396, 4.467), (.242, 1.877), [.5, 1, 1.5],
             ["0.5", "1.0", "1.5"], "NK cells (%)", NK_VIOLINS, NK_BOXES,
             [NK_PTS_1, NK_PTS_2, NK_PTS_3, NK_PTS_4], 16, 7.1, 8.9, 1.1, "#666666")
violin_panel((122, 958, 695, 1482), (.406, 4.61), (-.06, 5.18), [0, 1, 2, 3, 4, 5],
             ["0", "1", "2", "3", "4", "5"], "PDL1 (log2 TPM)", PDL1_VIOLINS, PDL1_BOXES,
             [PDL1_PTS_1, PDL1_PTS_2, PDL1_PTS_3, PDL1_PTS_4], 36, 11.6, 14.6, 1.5, "#555555",
             label_pad=6, xpad=4.5)

# ── Overlay for labels, frames and significance bars ─────────────────────────
ov = fig.add_axes([0, 0, 1, 1], zorder=20)
ov.set_xlim(0, GW)
ov.set_ylim(GH, 0)
ov.axis("off")


def label(u, v, s, fs, weight="normal", color="#222222", ha="left", font=None):
    kw = {"family": font} if font else {}
    ov.text(u, v + 2, s, fontsize=fs, fontweight=weight, color=color, ha=ha, va="center", **kw)


for letter, u, v in [("A", 27, 47), ("B", 997, 47), ("C", 31, 874)]:
    label(u, v, letter, 31, "bold", "black", "center", "Open Sans")

label(226, 89, "Immune Cells Infiltration", 18.3, "bold", "#111111", "center")
label(231, 137, "in Meningioma Subtypes", 18.3, "bold", "#111111", "center")
label(450, 195, "Subtype", 14.2, "bold", "#111111")
label(450, 227, "Grade", 14.2, "bold", "#111111")
for i, name in enumerate(ROW_LABELS):
    label(450, 282 + i * 67.6, name, 17.2, color="#333333")

for val, v in [("3", 180), ("2", 257), ("1", 334), ("0", 412), ("\u22121", 489), ("\u22122", 566)]:
    label(793, v, val, 15, color="#333333")

label(829, 190, "Subtype", 14.2, "bold", "#111111")
for i, name in enumerate(CATEGORIES):
    ov.add_patch(Rectangle((828, 208 + i * 36.8), 35, 36.8, fc=SUBTYPE_COLORS[i], ec="none"))
    label(871, 227 + i * 36.8, name, 13.9, color="#333333")
label(829, 392, "Grade", 14.2, "bold", "#111111")
for i, name in enumerate(["I", "II", "III"]):
    ov.add_patch(Rectangle((828, 411 + i * 37), 35, 37, fc=GRADE_COLORS[i], ec="none"))
    label(871, 430 + i * 37, name, 13.9, color="#333333")

# black frames on the heatmap
for x0, y0, x1, y1 in [(270, 381, 411, 455), (404, 519, 443, 585), (23, 720, 171, 790)]:
    ov.add_patch(Rectangle((x0, y0), x1 - x0, y1 - y0, fc="none", ec="black", lw=3.4))

# the source crops the descenders of these tick labels
for x0, y0, w, h in [(1200, 476, 58, 6), (1305, 476, 58, 6), (1218, 1012, 58, 6), (1321, 1012, 58, 6),
                     (296, 1507, 88, 10), (432, 1507, 88, 10)]:
    ov.add_patch(Rectangle((x0, y0), w, h, fc="white", ec="none"))

# significance bars: u start, u end, v line, u star, v star, stars
STARS_3 = "*\u200a*\u200a*"
SIG_BARS = [
    (1112, 1335, 29, 1224, 18, STARS_3), (1112, 1237, 151, 1176, 147, STARS_3),
    (1127, 1350, 552, 1243, 541, STARS_3), (1239, 1366, 589, 1303, 582, STARS_3),
    (1342, 1469, 571, 1406, 564, STARS_3), (1238, 1461, 1077, 1348, 1066, STARS_3),
    (1341, 1468, 1111, 1405, 1104, STARS_3), (217, 343, 1015, 282, 1011, STARS_3),
    (344, 471, 966, 410, 961, "*"), (340, 613, 939, 471, 926, "*"),
]
for u0, u1, vb, us, vs, stars in SIG_BARS:
    ov.plot([u0, u1], [vb, vb], color="black", lw=1.25, solid_capstyle="butt")
    ov.text(us, vs + 13, stars, fontsize=14.5, family=["DejaVu Serif", "DejaVu Sans"], color="#111111",
            ha="center", va="baseline")

ANOVA = [
    (1285, 493, r"$\mathbf{ANOVA:}\,\mathbfit{p}\,\mathbf{=\,1.6\,\times\,10^{-5}}$", 9.3),
    (1310, 1031, r"$\mathbf{ANOVA:}\,\mathbfit{p}\,\mathbf{=\,3.76\,\times 10^{-12}}$", 9.3),
    (1307, 1547, r"$\mathbf{ANOVA:}\,\mathbfit{p}\,\mathbf{=\,9.84\,\times 10^{-4}}$", 9.3),
    (411, 1532, r"$\mathbf{ANOVA:}\,\mathbfit{p}\,\mathbf{=\,8.91\times 10^{-4}}$", 13.7),
]
for u, v, s, fs in ANOVA:
    label(u, v, s, fs, "bold", "#111111", "center")
label(379, 886, "PD-L1", 20.5, "bold", "#111111", "center", "Open Sans")

fig.savefig("out.png", dpi=300, facecolor="white")
